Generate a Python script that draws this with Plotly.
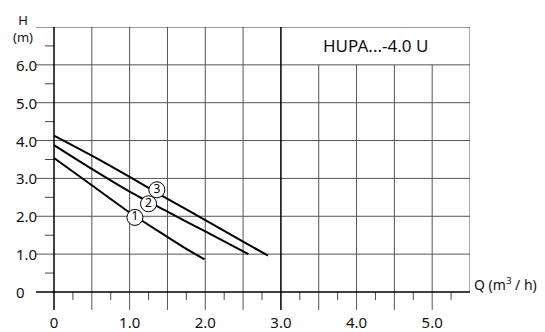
import plotly.graph_objects as go

# --- data ---
q1 = [0, 0.5, 1.0, 1.4, 1.7, 1.99]
h1 = [3.54, 2.82, 2.10, 1.58, 1.20, 0.86]
q2 = [0, 0.5, 1.0, 1.5, 2.0, 2.57]
h2 = [3.88, 3.25, 2.65, 2.12, 1.60, 1.00]
q3 = [0, 0.5, 1.0, 1.5, 2.0, 2.5, 2.83]
h3 = [4.13, 3.60, 3.04, 2.46, 1.90, 1.33, 0.96]

label_q = [1.07, 1.25, 1.36]
label_h = [1.97, 2.33, 2.70]
label_txt = ["1", "2", "3"]

x_ticks = [0, 1, 2, 3, 4, 5]
x_ticktext = ["0", "1.0", "2.0", "3.0", "4.0", "5.0"]
y_ticks = [0, 1, 2, 3, 4, 5, 6]
y_ticktext = ["0", "1.0", "2.0", "3.0", "4.0", "5.0", "6.0"]
x_grid_left = [0.5, 1.0, 1.5, 2.0, 2.5]
x_grid_right = [3.5, 4.0, 4.5, 5.0]
y_grid = [1, 2, 3, 4, 5, 6]
x_minor = [0.25, 0.75, 1.25, 1.75, 2.25, 2.75, 3.25, 3.75, 4.25, 4.75, 5.25]
y_minor = [0.5, 1.5, 2.5, 3.5, 4.5, 5.5, 6.5]
title_text = "HUPA...-4.0 U"

XMIN, XMAX = -0.238, 5.5
YMIN, YMAX = -0.476, 7.0
FONT = "Noto Sans"
GRID = "#555555"
TXT = "#111111"

fig = go.Figure()
for q, h in [(q1, h1), (q2, h2), (q3, h3)]:
    fig.add_trace(go.Scatter(x=q, y=h, mode="lines", line=dict(color="black", width=2, shape="spline", smoothing=0.8),
                             hoverinfo="skip", showlegend=False))
fig.add_trace(go.Scatter(x=label_q, y=label_h, mode="markers+text", text=label_txt,
                         textposition="middle center", textfont=dict(family=FONT, size=12, color="black"),
                         marker=dict(size=16, color="white", line=dict(color="black", width=1)),
                         showlegend=False, hoverinfo="skip"))

shapes = []
def line(x0, y0, x1, y1, color=GRID, width=1):
    shapes.append(dict(type="line", xref="x", yref="y", x0=x0, y0=y0, x1=x1, y1=y1,
                       line=dict(color=color, width=width), layer="below"))

for y in y_grid:
    line(XMIN, y, XMAX, y)
for x in x_grid_left:
    line(x, YMIN, x, 7)
for x in x_grid_right:
    line(x, YMIN, x, 6)
line(XMAX, 0, XMAX, 7)
line(XMIN, 7, XMAX, 7, color="#333333", width=1)
for x in x_minor:
    line(x, 0, x, -0.21, color="#444444")
for y in y_minor:
    line(0, y, -0.12, y, color="#444444")
line(XMIN, 0, XMAX, 0, color="black", width=1.5)
line(0, YMIN, 0, 7, color="black", width=1.5)
line(3, YMIN, 3, 7, color="black", width=1.5)

# paper-coordinate helpers: plot area spans 36..470 px horizontally, 27..310 px vertically
def px_x(p):
    return (p - 36) / 434.0

def px_y(p):
    return (310 - p) / 283.0

annotations = [
    dict(x=4.25, y=6.5, xref="x", yref="y", text=title_text, showarrow=False,
         font=dict(family=FONT, size=17, color=TXT)),
    dict(x=px_x(22.6), y=px_y(28.5), xref="paper", yref="paper", text="H<br>(m)", showarrow=False,
         xanchor="center", yanchor="middle", align="center", font=dict(family=FONT, size=13, color=TXT)),
    dict(x=px_x(472), y=px_y(284), xref="paper", yref="paper", text="Q (m<sup>3</sup> / h)", showarrow=False,
         xanchor="left", yanchor="middle", font=dict(family=FONT, size=14, color=TXT)),
]
for yv, yt in zip(y_ticks, y_ticktext):
    annotations.append(dict(x=px_x(14), y=yv, xref="paper", yref="y", text=yt, showarrow=False,
                            xanchor="left", yanchor="middle", font=dict(family=FONT, size=15, color=TXT)))

fig.update_layout(
    width=545, height=332, margin=dict(l=36, r=75, t=27, b=22),
    paper_bgcolor="white", plot_bgcolor="white",
    shapes=shapes, annotations=annotations,
    xaxis=dict(range=[XMIN, XMAX], showgrid=False, zeroline=False, showline=False, automargin=False,
               tickvals=x_ticks, ticktext=x_ticktext, ticks="", ticklabelstandoff=2,
               tickfont=dict(family=FONT, size=15, color=TXT), fixedrange=True),
    yaxis=dict(range=[YMIN, YMAX], showgrid=False, zeroline=False, showline=False, automargin=False,
               showticklabels=False, ticks="", fixedrange=True),
)
fig.write_html("out.html")
